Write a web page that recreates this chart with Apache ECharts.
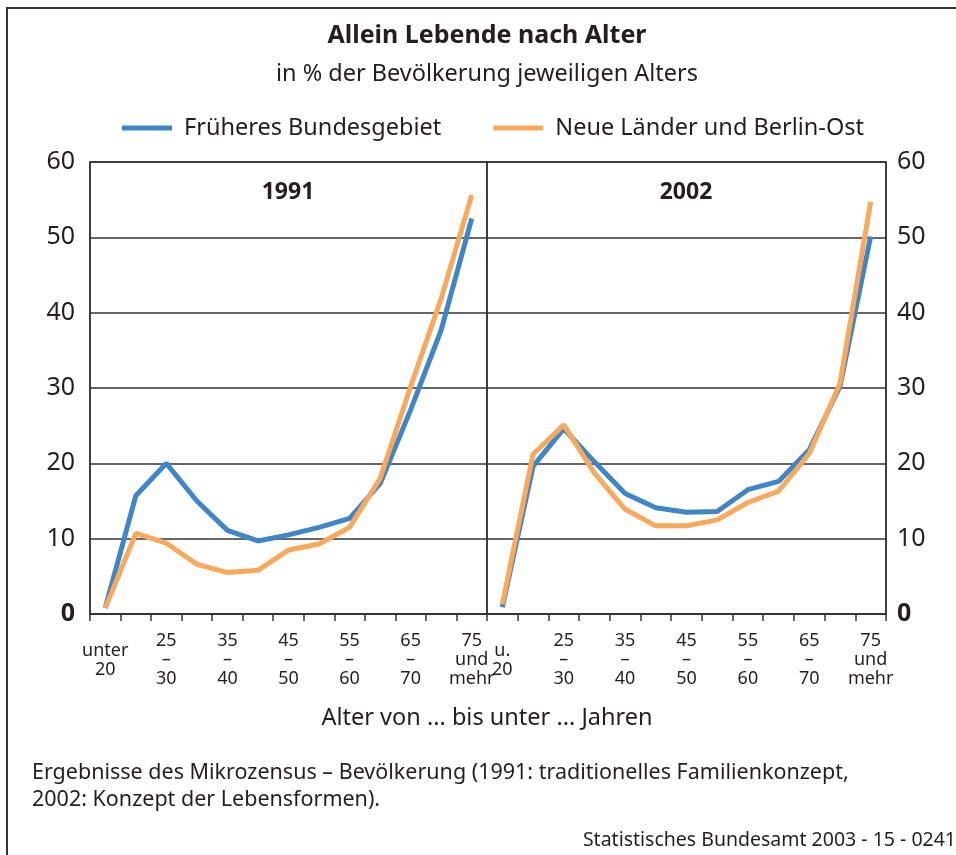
<!DOCTYPE html>
<html>
<head>
<meta charset="utf-8">
<script src="https://cdn.jsdelivr.net/npm/echarts@6/dist/echarts.min.js"></script>
<style>
  html, body { margin: 0; padding: 0; background: #fff; }
  #chart { width: 956px; height: 855px; }
</style>
</head>
<body>
<div id="chart"></div>
<script>
// Alter von ... bis unter ... Jahren
var cats1991 = ['unter\n20', '20\n–\n25', '25\n–\n30', '30\n–\n35', '35\n–\n40', '40\n–\n45', '45\n–\n50',
                '50\n–\n55', '55\n–\n60', '60\n–\n65', '65\n–\n70', '70\n–\n75', '75\nund\nmehr'];
var cats2002 = ['u.\n20', '20\n–\n25', '25\n–\n30', '30\n–\n35', '35\n–\n40', '40\n–\n45', '45\n–\n50',
                '50\n–\n55', '55\n–\n60', '60\n–\n65', '65\n–\n70', '70\n–\n75', '75\nund\nmehr'];

// in % der Bevölkerung jeweiligen Alters
var west1991 = [0.8, 15.7, 20.0, 15.0, 11.1, 9.7, 10.5, 11.5, 12.7, 17.3, 27.1, 37.7, 52.5];
var ost1991  = [0.8, 10.7, 9.4, 6.6, 5.5, 5.8, 8.5, 9.3, 11.5, 18.0, 30.2, 41.9, 55.6];
var west2002 = [0.9, 19.6, 24.6, 20.2, 16.0, 14.1, 13.5, 13.6, 16.5, 17.6, 21.8, 30.2, 50.1];
var ost2002  = [1.3, 21.2, 25.1, 18.7, 13.9, 11.7, 11.7, 12.5, 14.8, 16.3, 21.3, 30.6, 54.7];

var seriesNames = ['Früheres Bundesgebiet', 'Neue Länder und Berlin-Ost'];
var yTicks = [0, 10, 20, 30, 40, 50, 60];

var blue = '#3f86c8';
var orange = '#f9a85c';
var ink = '#231f20';
var font = '"Noto Sans"';

var myChart = echarts.init(document.getElementById('chart'));

function xAxisFor(gridIndex, data) {
    return {
        type: 'category',
        gridIndex: gridIndex,
        boundaryGap: true,
        data: data,
        axisLine: { show: true, lineStyle: { color: '#333', width: 1.5 } },
        axisTick: { show: true, interval: 0, length: 7, lineStyle: { color: '#333', width: 1.5 } },
        axisLabel: {
            interval: 1,
            color: ink,
            fontFamily: font,
            fontSize: 18,
            lineHeight: 19,
            verticalAlign: 'middle',
            margin: 46
        }
    };
}

function yAxisFor(gridIndex, position, margin) {
    return {
        type: 'value',
        gridIndex: gridIndex,
        position: position,
        min: yTicks[0],
        max: yTicks[yTicks.length - 1],
        interval: 10,
        axisLine: { show: true, lineStyle: { color: '#333', width: 1.5 } },
        axisTick: { show: false },
        splitLine: { show: true, lineStyle: { color: '#333', width: 1.5 } },
        axisLabel: {
            color: ink,
            fontFamily: font,
            fontSize: 25,
            margin: margin,
            formatter: function (v) { return v === 0 ? '{b|0}' : String(v); },
            rich: { b: { fontWeight: 'bold', fontSize: 25, fontFamily: font, color: ink } }
        }
    };
}

function lineSeries(name, color, xi, yi, data) {
    return {
        name: name,
        type: 'line',
        xAxisIndex: xi,
        yAxisIndex: yi,
        data: data,
        symbol: 'none',
        smooth: false,
        lineStyle: { color: color, width: 5 },
        itemStyle: { color: color }
    };
}

myChart.setOption({
    animation: false,
    backgroundColor: '#fff',
    legend: {
        top: 111,
        left: 117,
        itemGap: 52,
        itemWidth: 50,
        itemHeight: 5,
        icon: 'rect',
        textStyle: { color: ink, fontFamily: font, fontSize: 23.5, padding: [0, 0, 0, 7] },
        data: seriesNames
    },
    grid: [
        { left: 90, top: 162, width: 397, height: 452, show: true, borderColor: '#333', borderWidth: 1.5 },
        { left: 487, top: 162, width: 399, height: 452, show: true, borderColor: '#333', borderWidth: 1.5 }
    ],
    xAxis: [xAxisFor(0, cats1991), xAxisFor(1, cats2002)],
    yAxis: [yAxisFor(0, 'left', 15), yAxisFor(1, 'right', 11)],
    series: [
        lineSeries(seriesNames[0], blue, 0, 0, west1991),
        lineSeries(seriesNames[1], orange, 0, 0, ost1991),
        lineSeries(seriesNames[0], blue, 1, 1, west2002),
        lineSeries(seriesNames[1], orange, 1, 1, ost2002)
    ],
    graphic: [
        // Rahmen
        { type: 'polyline', shape: { points: [[7, 855], [7, 8], [956, 8]] },
          style: { stroke: '#333', lineWidth: 2, fill: null } },
        { type: 'text', x: 487, y: 36,
          style: { text: 'Allein Lebende nach Alter', fill: ink, font: 'bold 25px ' + font, align: 'center', verticalAlign: 'middle' } },
        { type: 'text', x: 487, y: 74,
          style: { text: 'in % der Bevölkerung jeweiligen Alters', fill: ink, font: '23.5px ' + font, align: 'center', verticalAlign: 'middle' } },
        { type: 'text', x: 288, y: 192,
          style: { text: '1991', fill: ink, font: 'bold 23px ' + font, align: 'center', verticalAlign: 'middle' } },
        { type: 'text', x: 686, y: 192,
          style: { text: '2002', fill: ink, font: 'bold 23px ' + font, align: 'center', verticalAlign: 'middle' } },
        { type: 'text', x: 487, y: 718,
          style: { text: 'Alter von ... bis unter ... Jahren', fill: ink, font: '23.5px ' + font, align: 'center', verticalAlign: 'middle' } },
        { type: 'text', x: 32, y: 786,
          style: { text: 'Ergebnisse des Mikrozensus – Bevölkerung (1991: traditionelles Familienkonzept,\n2002: Konzept der Lebensformen).',
                   fill: ink, font: '21.5px ' + font, lineHeight: 27, verticalAlign: 'middle' } },
        { type: 'text', x: 956, y: 840,
          style: { text: 'Statistisches Bundesamt 2003 - 15 - 0241', fill: ink, font: '19.5px ' + font, align: 'right', verticalAlign: 'middle' } }
    ]
});
</script>
</body>
</html>
